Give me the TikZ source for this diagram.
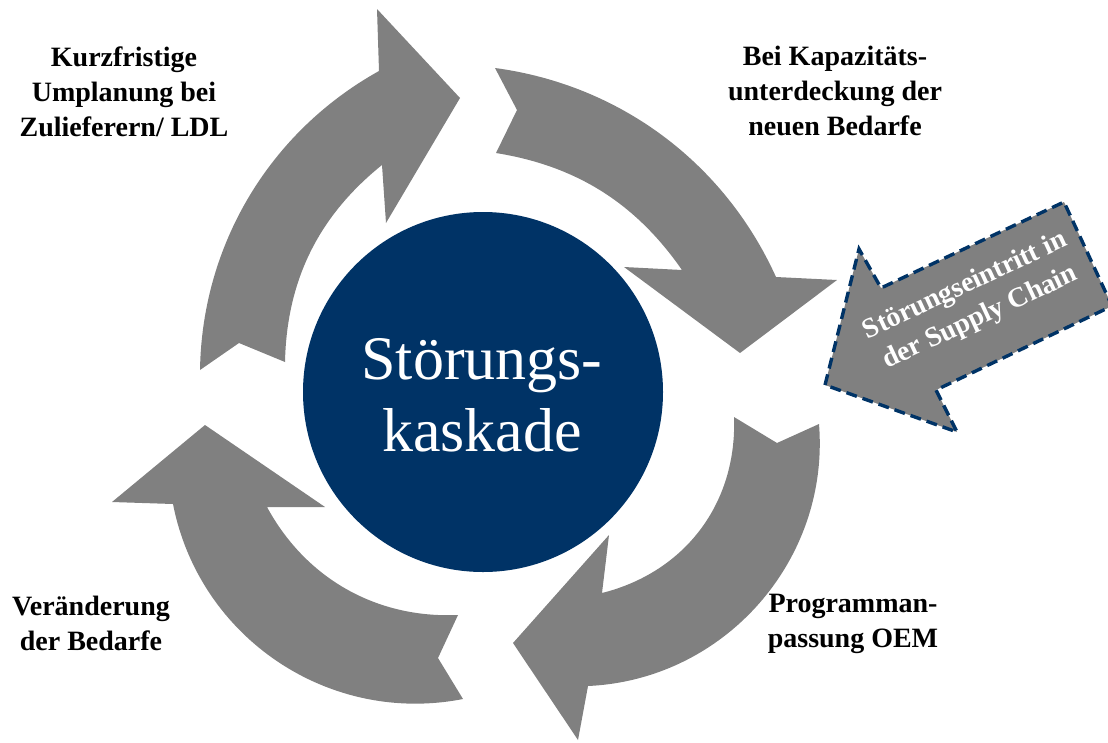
\documentclass[tikz,border=0pt]{standalone}
\usepackage{fontspec}
\setmainfont{Liberation Serif}
\definecolor{arrowgray}{RGB}{128,128,128}
\definecolor{navy}{RGB}{0,51,102}
\begin{document}
\begin{tikzpicture}[x=1pt,y=1pt,
  cyclearrow/.style={fill=arrowgray},
  sidearrow/.style={fill=arrowgray, draw=navy, line width=3.4pt, dash pattern=on 11pt off 6pt},
  steplabel/.style={font=\bfseries\fontsize{28}{35}\selectfont, align=center, anchor=north, inner sep=0pt},
  coretext/.style={font=\fontsize{62}{72}\selectfont, text=white, align=center, anchor=north, inner sep=0pt},
  sidetext/.style={font=\bfseries\fontsize{28}{35}\selectfont, text=white, align=center, inner sep=0pt, rotate=25}]
\useasboundingbox (0,0) rectangle (1108,-742);

% arrow 1 (top left)
\coordinate (aTO) at (200,-370);
\coordinate (aHOS) at (379,-71);
\coordinate (aHOC) at (377,-9);
\coordinate (aTIP) at (460,-98);
\coordinate (aHIC) at (386,-223);
\coordinate (aHIS) at (382,-165);
\coordinate (aTI) at (285,-362);
\coordinate (aTN) at (239,-343);
\fill[cyclearrow] (aTO) to[bend left=30, looseness=0.92] (aHOS) -- (aHOC) -- (aTIP) -- (aHIC) -- (aHIS)
  to[bend right=25, looseness=0.95] (aTI) -- (aTN) -- cycle;

% arrow 2 (top right)
\coordinate (bTO) at (495,-68);
\coordinate (bHOS) at (776,-277);
\coordinate (bHOC) at (837,-280);
\coordinate (bTIP) at (740,-353);
\coordinate (bHIC) at (624,-267);
\coordinate (bHIS) at (682,-270);
\coordinate (bTI) at (496,-153);
\coordinate (bTN) at (517,-110);
\fill[cyclearrow] (bTO) to[bend left=29, looseness=0.92] (bHOS) -- (bHOC) -- (bTIP) -- (bHIC) -- (bHIS)
  to[bend right=23, looseness=0.95] (bTI) -- (bTN) -- cycle;

% arrow 3 (bottom right)
\coordinate (cTO) at (819,-424);
\coordinate (cHOS) at (588,-686);
\coordinate (cHOC) at (578,-740);
\coordinate (cTIP) at (513,-643);
\coordinate (cHIC) at (609,-535);
\coordinate (cHIS) at (602,-593);
\coordinate (cTI) at (734,-417);
\coordinate (cTN) at (777,-443);
\fill[cyclearrow] (cTO) to[bend left=46] (cHOS) -- (cHOC) -- (cTIP) -- (cHIC) -- (cHIS)
  to[bend right=39] (cTI) -- (cTN) -- cycle;

% arrow 4 (bottom left)
\coordinate (dTO) at (463,-699);
\coordinate (dHOS) at (173,-504);
\coordinate (dHOC) at (112,-502);
\coordinate (dTIP) at (205,-425);
\coordinate (dHIC) at (325,-507);
\coordinate (dHIS) at (267,-507);
\coordinate (dTI) at (458,-615);
\coordinate (dTN) at (438,-658);
\fill[cyclearrow] (dTO) to[bend left=45] (dHOS) -- (dHOC) -- (dTIP) -- (dHIC) -- (dHIS)
  to[bend right=32, looseness=0.95] (dTI) -- (dTN) -- cycle;

% centre
\node[circle, fill=navy, minimum size=360pt, inner sep=0pt] (core) at (483,-392) {};
\node[coretext] (coretxt) at (482,-338) {Störungs-\\kaskade};

% side arrow
\coordinate (sTIP) at (825,-385);
\coordinate (sHUC) at (859,-249);
\coordinate (sHUS) at (881,-288);
\coordinate (sTUR) at (1064,-202);
\coordinate (sTLR) at (1112,-306);
\coordinate (sHLS) at (936,-390);
\coordinate (sHLC) at (957,-432);
\draw[sidearrow] (sTIP) -- (sHUC) -- (sHUS) -- (sTUR) -- (sTLR) -- (sHLS) -- (sHLC) -- cycle;
\node[sidetext] (sidetxt) at (973,-302) {Störungseintritt in\\der Supply Chain};

% labels
\node[steplabel] (lab1) at (124,-46.7) {Kurzfristige\\Umplanung bei\\Zulieferern/ LDL};
\node[steplabel] (lab2) at (835,-45.7) {Bei Kapazitäts-\\unterdeckung der\\neuen Bedarfe};
\node[steplabel] (lab3) at (91,-596) {Veränderung\\der Bedarfe};
\node[steplabel] (lab4) at (853,-594) {Programman-\\passung OEM};
\end{tikzpicture}
\end{document}
